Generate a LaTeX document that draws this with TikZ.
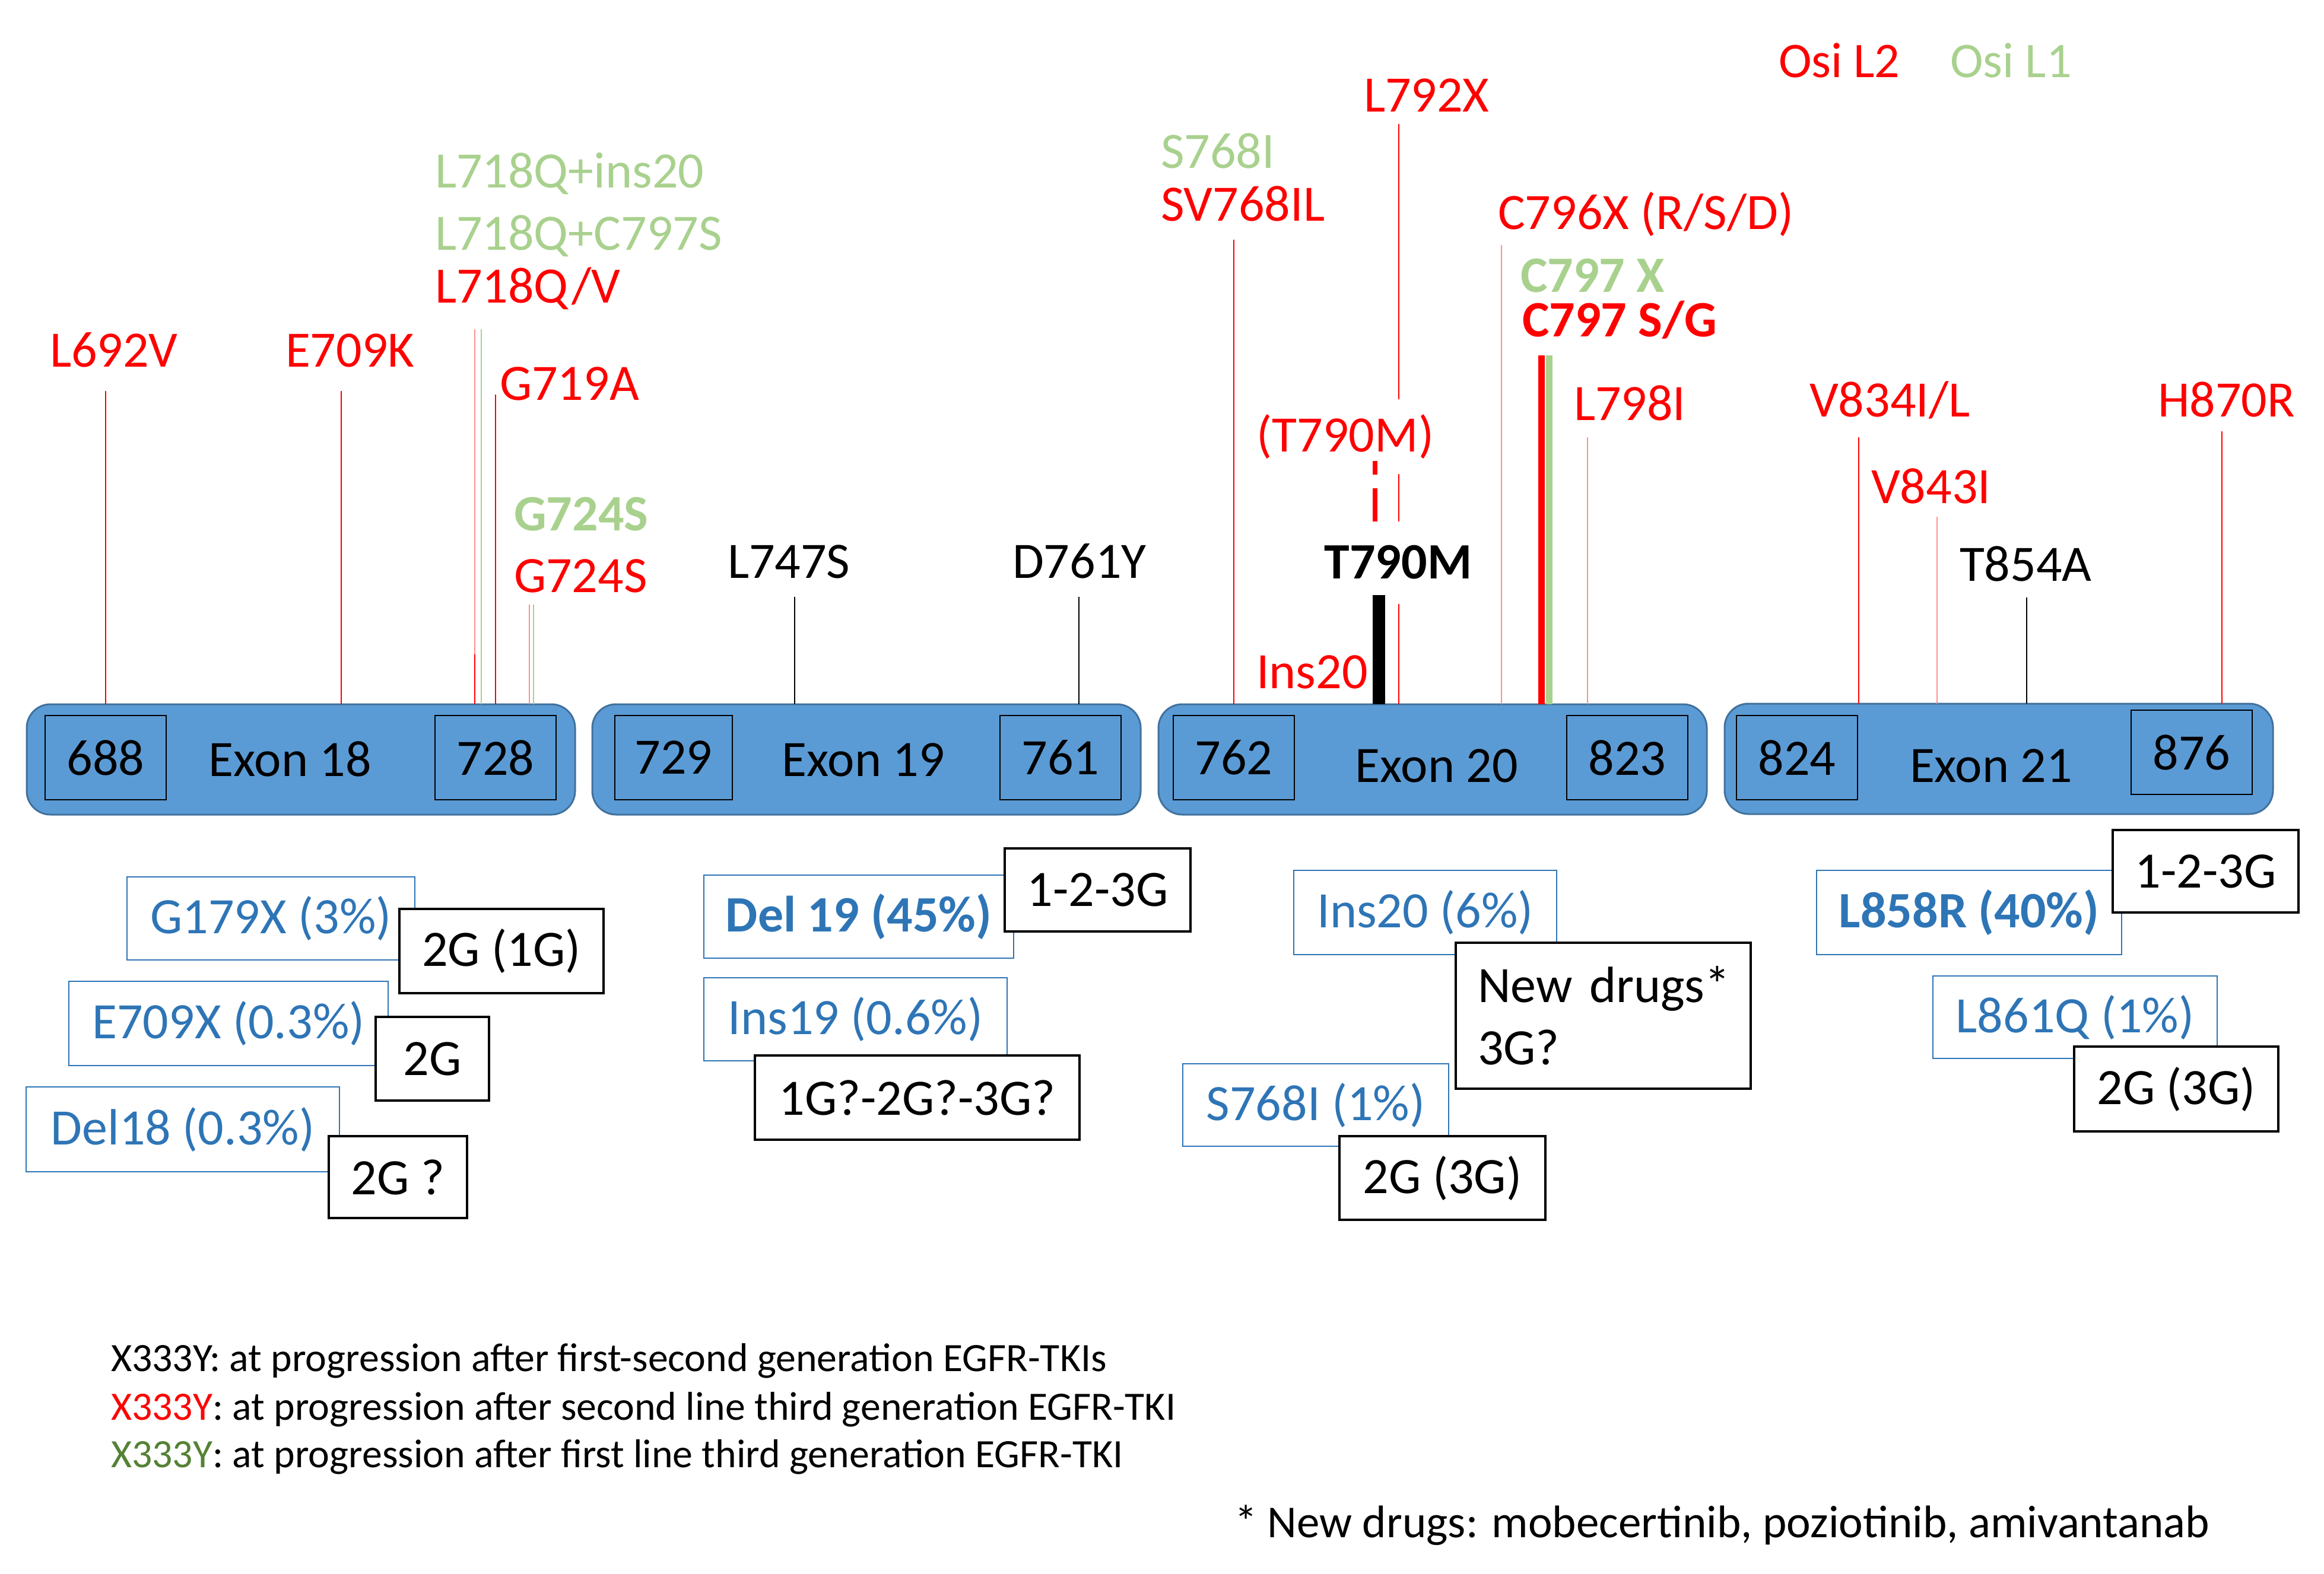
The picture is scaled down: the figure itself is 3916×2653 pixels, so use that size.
\documentclass[tikz,border=0pt]{standalone}
\usepackage{fontspec}
\setmainfont{Carlito}
\usetikzlibrary{calc}
\definecolor{mred}{HTML}{FF0000}
\definecolor{mgreen}{HTML}{A9D18E}
\definecolor{mpink}{HTML}{FF9090}
\definecolor{exfill}{HTML}{5B9BD5}
\definecolor{exdraw}{HTML}{41719C}
\definecolor{bluetxt}{HTML}{2E75B6}
\definecolor{dgreen}{HTML}{548235}
\begin{document}
\begin{tikzpicture}[x=0.25pt,y=-0.25pt,
  every node/.style={inner sep=0pt, outer sep=0pt},
  big/.style={font=\fontsize{21.5}{26.25}\selectfont},
  lbl/.style={big, anchor=base west},
  rl/.style={lbl, text=mred},
  gl/.style={lbl, text=mgreen},
  kl/.style={lbl, text=black},
  exon/.style={draw=exdraw, fill=exfill, line width=0.75pt, rounded corners=10pt,
    minimum width=231pt, minimum height=46.5pt},
  num/.style={big, draw=black, line width=0.6pt, minimum width=51pt, minimum height=35.5pt},
  bbox/.style={big, draw=bluetxt, fill=white, line width=0.7pt, text=bluetxt},
  kbox/.style={big, draw=black, fill=white, line width=0.9pt},
  mut/.style={line width=0.7pt},
  legend/.style={anchor=base west, font=\fontsize{16.95}{20}\selectfont}
]
\useasboundingbox (0,0) rectangle (3916,2653);

% ---------- exon bars ----------
\node[exon] (ex18) at (507,1280) {};
\node[exon] (ex19) at (1460,1280) {};
\node[exon] (ex20) at (2414,1280) {};
\node[exon] (ex21) at (3368,1279) {};

\node[num] (n688) at (178,1277) {688};
\node[num] (n728) at (835,1277) {728};
\node[num, minimum width=49.5pt] (n729) at (1135,1277) {729};
\node[num] (n761) at (1787,1277) {761};
\node[num] (n762) at (2079,1277) {762};
\node[num] (n823) at (2742,1277) {823};
\node[num] (n824) at (3028,1277) {824};
\node[num] (n876) at (3693,1268) {876};

\node[big] (t18) at (489,1279) {Exon 18};
\node[big] (t19) at (1455,1281) {Exon 19};
\node[big] (t20) at (2421,1291) {Exon 20};
\node[big] (t21) at (3355,1291) {Exon 21};

% ---------- mutation marker tops ----------
\coordinate (m692) at (178,659);
\coordinate (m709) at (575,659);
\coordinate (m718r) at (800,555);
\coordinate (m718rl) at (800,1103);
\coordinate (m718g) at (811,555);
\coordinate (m719) at (835,665);
\coordinate (m724r) at (892,1019);
\coordinate (m724g) at (899,1019);
\coordinate (m747) at (1339,1006);
\coordinate (m761) at (1818,1006);
\coordinate (m768) at (2079,404);
\coordinate (m792) at (2357,209);
\coordinate (m790d) at (2317,777);
\coordinate (m790) at (2323,1003);
\coordinate (m796) at (2530,413);
\coordinate (m797r) at (2597,599);
\coordinate (m797g) at (2610,599);
\coordinate (m798) at (2675,737);
\coordinate (m834) at (3132,737);
\coordinate (m843) at (3264,871);
\coordinate (m854) at (3415,1007);
\coordinate (m870) at (3744,727);

% ---------- thin marker lines ----------
\draw[mut, mred] (m692) -- (m692 |- ex18.north);
\draw[mut, mred] (m709) -- (m709 |- ex18.north);
\draw[mut, mpink] (m718r) -- (m718r |- ex18.north);
\draw[mut, mred] (m718rl) -- (m718rl |- ex18.north);
\draw[mut, mgreen] (m718g) -- (m718g |- ex18.north);
\draw[mut, mred] (m719) -- (m719 |- ex18.north);
\draw[mut, mpink] (m724r) -- (m724r |- ex18.north);
\draw[mut, mgreen] (m724g) -- (m724g |- ex18.north);
\draw[mut, black] (m747) -- (m747 |- ex19.north);
\draw[mut, black] (m761) -- (m761 |- ex19.north);
\draw[mut, mred] (m768) -- (m768 |- ex20.north);
\draw[mut, mred] (m792) -- (m792 |- ex20.north);
\draw[mut, mpink] (m796) -- (m796 |- ex20.north);
\draw[line width=2.75pt, mred] (m797r) -- (m797r |- ex20.north);
\draw[line width=2.75pt, mgreen] (m797g) -- (m797g |- ex20.north);
\draw[mut, mpink] (m798) -- (m798 |- ex20.north);
\draw[mut, mred] (m834) -- (m834 |- ex21.north);
\draw[mut, mpink] (m843) -- (m843 |- ex21.north);
\draw[mut, black] (m854) -- (m854 |- ex21.north);
\draw[mut, mred] (m870) -- (m870 |- ex21.north);

% ---------- mutation labels ----------
\node[gl] (lq1) at (733,317) {L718Q+ins20};
\node[gl] (lq2) at (733,422) {L718Q+C797S};
\node[rl] (lq3) at (733,511) {L718Q/V};
\node[rl] (l692) at (84,618) {L692V};
\node[rl] (e709) at (481,618) {E709K};
\node[rl] (g719) at (842,674) {G719A};
\node[gl, font=\fontsize{21.5}{26.25}\selectfont\bfseries] (g724g) at (866,894) {G724S};
\node[rl] (g724r) at (866,998) {G724S};
\node[kl] (l747) at (1226,974) {L747S};
\node[kl] (d761) at (1706,974) {D761Y};
\node[gl] (s768g) at (1956,284) {S768I};
\node[rl] (s768r) at (1956,373) {SV768IL};
\node[rl] (l792) at (2298,189) {L792X};
\node[rl] (c796) at (2524,387) {C796X (R/S/D)};
\node[gl, font=\fontsize{21.5}{26.25}\selectfont\bfseries] (c797g) at (2562,493) {C797 X};
\node[rl, font=\fontsize{21.5}{26.25}\selectfont\bfseries] (c797r) at (2565,568) {C797 S/G};
\node[rl] (l798) at (2652,708) {L798I};
\node[big, text=mred, fill=white, minimum height=31.5pt] (t790p) at (2267,736) {(T790M)};
\node[big, font=\fontsize{21.5}{26.25}\selectfont\bfseries, fill=white, minimum height=34.75pt] (t790b) at (2356,948) {T790M};
\node[rl] (ins20) at (2117,1160) {Ins20};
\node[rl] (v834) at (3049,702) {V834I/L};
\node[rl] (h870) at (3636,702) {H870R};
\node[rl] (v843) at (3153,848) {V843I};
\node[kl] (t854) at (3302,979) {T854A};

\node[rl, font=\fontsize{21}{25}\selectfont] (osi2) at (2997,131) {Osi L2};
\node[gl, font=\fontsize{21}{25}\selectfont] (osi1) at (3286,131) {Osi L1};

% ---------- T790M markers ----------
\draw[line width=2pt, mred, dash pattern=on 5.75pt off 5.75pt on 14pt] (m790d) -- (m790d |- t790b.north);
\draw[line width=5.25pt, black] (m790) -- (m790 |- ex20.north);

% ---------- frequency boxes ----------
\node[bbox, minimum width=121.25pt, minimum height=35pt] (g179) at (456.5,1548) {G179X (3\%)};
\node[bbox, minimum width=134.5pt, minimum height=35.5pt] (e709x) at (385,1725) {E709X (0.3\%)};
\node[bbox, minimum width=132pt, minimum height=35.75pt] (del18) at (308,1903.5) {Del18 (0.3\%)};
\node[bbox, font=\fontsize{21.5}{26.25}\selectfont\bfseries, minimum width=130.5pt, minimum height=35pt] (del19) at (1447,1545) {Del 19 (45\%)};
\node[bbox, minimum width=127.75pt, minimum height=35pt] (ins19) at (1441.5,1718) {Ins19 (0.6\%)};
\node[bbox, minimum width=110.75pt, minimum height=35.5pt] (ins20b) at (2401.5,1538) {Ins20 (6\%)};
\node[bbox, minimum width=112pt, minimum height=34.75pt] (s768b) at (2217,1862.5) {S768I (1\%)};
\node[bbox, font=\fontsize{21.5}{26.25}\selectfont\bfseries, minimum width=128.5pt, minimum height=35.5pt] (l858) at (3318,1538) {L858R (40\%)};
\node[bbox, minimum width=119.75pt, minimum height=34.75pt] (l861) at (3496.5,1714.5) {L861Q (1\%)};

% ---------- drug boxes ----------
\node[kbox, minimum width=86pt, minimum height=35.5pt] (d1) at (845,1603) {2G (1G)};
\node[kbox, minimum width=47.75pt, minimum height=35.25pt] (d2) at (728.5,1784.5) {2G};
\node[kbox, minimum width=58.25pt, minimum height=34.5pt] (d3) at (670.5,1984) {2G ?};
\node[kbox, minimum width=78.25pt, minimum height=35pt] (d4) at (1849.5,1500) {1-2-3G};
\node[kbox, minimum width=136.75pt, minimum height=35.5pt] (d5) at (1545.5,1850) {1G?-2G?-3G?};
\node[kbox, text width=105.75pt, align=left, inner xsep=9.25pt, minimum height=61.5pt] (d6) at (2701.5,1712) {\mbox{New drugs*}\\3G?};
\node[kbox, minimum width=86.75pt, minimum height=35.25pt] (d7) at (2430.5,1985.5) {2G (3G)};
\node[kbox, minimum width=78.25pt, minimum height=34.75pt] (d8) at (3716.5,1468.5) {1-2-3G};
\node[kbox, minimum width=86pt, minimum height=35.75pt] (d9) at (3667,1835.5) {2G (3G)};

% ---------- legend ----------
\node[legend] (leg1) at (187,2311) {X333Y: at progression after first-second generation EGFR-TKIs};
\node[legend] (leg2) at (187,2393) {\textcolor{mred}{X333Y}: at progression after second line third generation EGFR-TKI};
\node[legend] (leg3) at (187,2473) {\textcolor{dgreen}{X333Y}: at progression after first line third generation EGFR-TKI};
\node[anchor=base west, font=\fontsize{19.25}{23}\selectfont] (foot) at (2080,2591) {* New drugs: mobecertinib, poziotinib, amivantanab};
\end{tikzpicture}
\end{document}
